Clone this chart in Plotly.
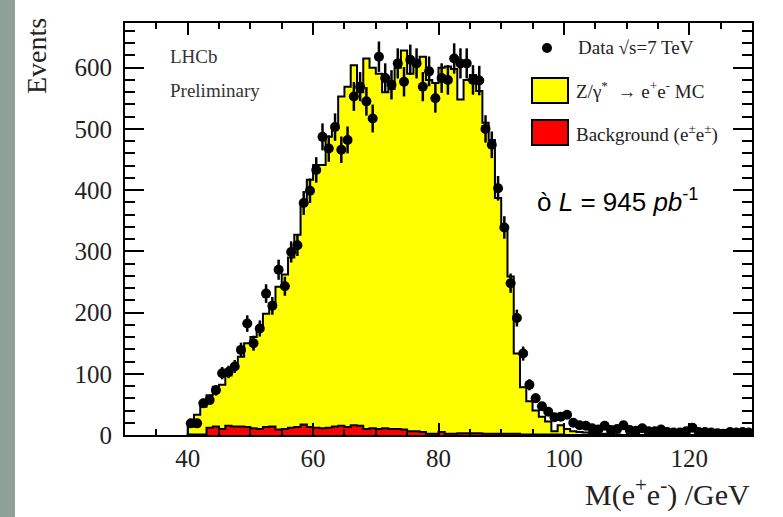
import numpy as np
import plotly.graph_objects as go

# ---------------- data (1 GeV bins, 40 -> 130 GeV) ----------------
bin_low = 40
bin_high = 130
bin_width = 1

data_counts = [19, 19, 52, 57, 73, 101, 103, 112, 139, 182,
               150, 174, 231, 211, 270, 243, 299, 310, 379, 399,
               433, 487, 468, 503, 466, 482, 553, 569, 545, 517,
               618, 583, 572, 607, 577, 613, 607, 569, 594, 550,
               583, 580, 615, 607, 607, 580, 579, 500, 474, 403,
               339, 248, 191, 133, 82, 60, 47, 38, 29, 30,
               33, 20, 16, 15, 11, 9, 15, 8, 10, 16,
               8, 7, 11, 6, 6, 9, 5, 4, 4, 6,
               12, 5, 5, 4, 3, 2, 5, 4, 5, 4]

mc_total = [14, 33, 46, 65, 79, 82, 97, 112, 128, 150,
            160, 172, 198, 215, 242, 262, 290, 327, 379, 417,
            441, 441, 487, 506, 553, 569, 604, 560, 615, 600,
            590, 560, 565, 600, 628, 590, 610, 618, 580, 575,
            600, 602, 598, 548, 580, 588, 562, 510, 482, 387,
            340, 259, 133, 78, 55, 40, 30, 22, 6, 16,
            10, 6, 5, 4, 3, 2, 2, 3, 1, 0,
            0, 0, 0, 0, 0, 0, 0, 0, 0, 0,
            0, 0, 0, 0, 0, 0, 0, 0, 0, 0]

background = [1, 1, 1, 12, 14, 10, 15, 14, 14, 13,
              11, 10, 13, 14, 9, 10, 12, 13, 17, 13,
              12, 11, 12, 14, 15, 13, 16, 15, 10, 11,
              10, 11, 10, 10, 9, 6, 6, 5, 2, 2,
              5, 2, 2, 3, 3, 3, 3, 2, 2, 2,
              2, 2, 2, 1, 1, 1, 1, 1, 1, 1,
              0, 0, 0, 0, 0, 0, 0, 0, 0, 0,
              0, 0, 0, 0, 0, 0, 0, 0, 0, 0,
              0, 0, 0, 0, 0, 0, 0, 0, 0, 0]

x_ticks = [40, 60, 80, 100, 120]
y_ticks = [0, 100, 200, 300, 400, 500, 600]

edges = np.arange(bin_low, bin_high + bin_width, bin_width)
centers = edges[:-1] + bin_width / 2


def step_xy(vals):
    xs = [edges[0]] + list(edges[:-1]) + [edges[-1]]
    ys = [0] + list(vals) + [0]
    return xs, ys


fig = go.Figure()

xs, ys = step_xy(mc_total)
fig.add_trace(go.Scatter(x=xs, y=ys, mode="lines", line=dict(color="black", width=2, shape="hv"),
                         fill="tozeroy", fillcolor="#ffff00", showlegend=False, hoverinfo="skip"))
xs, ys = step_xy(background)
fig.add_trace(go.Scatter(x=xs, y=ys, mode="lines", line=dict(color="black", width=2, shape="hv"),
                         fill="tozeroy", fillcolor="#ff0000", showlegend=False, hoverinfo="skip"))

fig.add_trace(go.Scatter(
    x=centers, y=data_counts, mode="markers",
    marker=dict(color="black", size=10),
    error_y=dict(type="data", array=np.sqrt(data_counts), color="black", thickness=2.5, width=0),
    showlegend=False))

serif = "Liberation Serif"
sans = "Liberation Sans"

W, H = 783, 517
ml, mr, mt, mb = 125, 31, 23, 82
pw, ph = W - ml - mr, H - mt - mb


def px(x):
    return (x - ml) / pw


def py(y):
    return (H - mb - y) / ph


shapes = [
    dict(type="rect", xref="paper", yref="paper", x0=px(-5), x1=px(15), y0=py(530), y1=py(-10),
         fillcolor="#8fa096", line=dict(width=0), layer="below"),
    # legend markers
    dict(type="circle", xref="paper", yref="paper", x0=px(542), x1=px(552), y0=py(53), y1=py(43),
         fillcolor="black", line=dict(width=0)),
    dict(type="rect", xref="paper", yref="paper", x0=px(532), x1=px(568), y0=py(103), y1=py(78),
         fillcolor="#ffff00", line=dict(color="black", width=2)),
    dict(type="rect", xref="paper", yref="paper", x0=px(532), x1=px(568), y0=py(145), y1=py(120),
         fillcolor="#ff0000", line=dict(color="black", width=2)),
]

annotations = [
    dict(text="Data √s=7 TeV", x=px(576), y=py(48), xanchor="left", yanchor="middle",
         font=dict(family=serif, size=19, color="#222")),
    dict(text="Z/γ<sup>*</sup>  → e<sup>+</sup>e<sup>-</sup> MC", x=px(574), y=py(90), xanchor="left",
         yanchor="middle", font=dict(family=serif, size=19, color="#222")),
    dict(text="Background (e<sup>±</sup>e<sup>±</sup>)", x=px(574), y=py(133), xanchor="left",
         yanchor="middle", font=dict(family=serif, size=19, color="#222")),
    dict(text="ò <i>L</i> = 945 <i>pb</i><sup>-1</sup>", x=px(535), y=py(200), xanchor="left",
         yanchor="middle", font=dict(family=sans, size=26, color="black")),
    dict(text="LHCb", x=px(168), y=py(57), xanchor="left", yanchor="middle",
         font=dict(family=serif, size=19, color="#333")),
    dict(text="Preliminary", x=px(168), y=py(90), xanchor="left", yanchor="middle",
         font=dict(family=serif, size=19, color="#333")),
    dict(text="Events", x=px(37), y=py(16), xanchor="center", yanchor="top", textangle=-90,
         font=dict(family=serif, size=28, color="#222")),
    dict(text="M(e<sup>+</sup>e<sup>-</sup>) /GeV", x=1.0, y=py(492), xanchor="right", yanchor="middle",
         font=dict(family=serif, size=30, color="#222")),
]
for a in annotations:
    a.update(xref="paper", yref="paper", showarrow=False)

fig.update_layout(
    width=W, height=H,
    margin=dict(l=ml, r=mr, t=mt, b=mb),
    paper_bgcolor="white", plot_bgcolor="white",
    shapes=shapes, annotations=annotations,
    xaxis=dict(range=[30, 130], tickvals=x_ticks, ticks="inside", ticklen=12, tickwidth=2,
               tickcolor="black", showline=True, linecolor="black", linewidth=2, mirror="ticks",
               showgrid=False, zeroline=False,
               minor=dict(dtick=5, tick0=0, ticks="inside", ticklen=6, tickwidth=2, tickcolor="black",
                          showgrid=False),
               tickfont=dict(family=serif, size=25, color="#222")),
    yaxis=dict(range=[0, 673], tickvals=y_ticks, ticks="inside", ticklen=19, tickwidth=2,
               tickcolor="black", showline=True, linecolor="black", linewidth=2, mirror="ticks",
               showgrid=False, zeroline=False, ticklabelstandoff=6,
               minor=dict(dtick=20, tick0=0, ticks="inside", ticklen=10, tickwidth=2, tickcolor="black",
                          showgrid=False),
               tickfont=dict(family=serif, size=25, color="#222")),
)

fig.write_html("out.html", config={"displayModeBar": False},
               post_script="document.body.style.margin='0';document.body.style.overflow='hidden';")
